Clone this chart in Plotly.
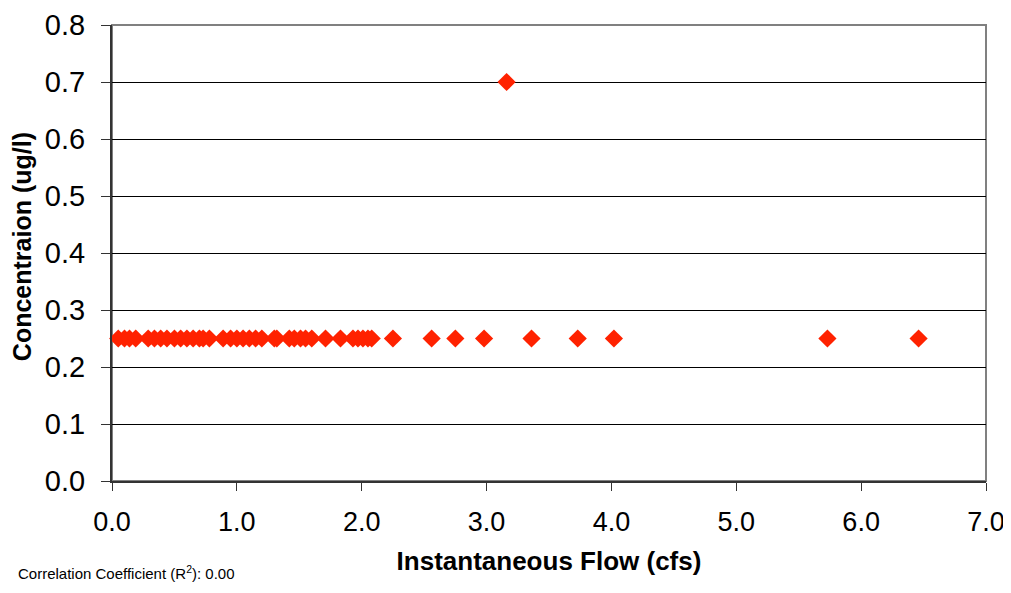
import plotly.graph_objects as go

# instantaneous flow (cfs) and concentration (ug/l)
flow = [0.05, 0.10, 0.14, 0.19,
        0.29, 0.34, 0.39, 0.44, 0.50, 0.55, 0.60, 0.65, 0.70, 0.73, 0.78,
        0.89, 0.95, 1.00, 1.05, 1.10, 1.15, 1.20,
        1.30, 1.32, 1.42, 1.46, 1.51, 1.55, 1.60,
        1.71, 1.83, 1.93, 1.97, 2.01, 2.05, 2.08,
        2.25, 2.56, 2.75, 2.98, 3.16, 3.36, 3.73, 4.02, 5.73, 6.46]
conc = [0.25] * 40 + [0.70] + [0.25] * 5

x_ticks = [0, 1, 2, 3, 4, 5, 6, 7]
y_ticks = [0, 0.1, 0.2, 0.3, 0.4, 0.5, 0.6, 0.7, 0.8]

fig = go.Figure(go.Scatter(
    x=flow, y=conc, mode="markers",
    marker=dict(symbol="diamond", size=14, color="#ff2200"),
    cliponaxis=False,
))

# page body adds an 8px margin, so the figure is sized to fit inside it
fig.update_layout(
    width=1003, height=577,
    margin=dict(l=104, r=25, t=17, b=104, autoexpand=False),
    paper_bgcolor="white", plot_bgcolor="white",
    font=dict(family="Liberation Sans, Arial", color="black"),
    showlegend=False,
    shapes=[dict(type="rect", xref="paper", yref="paper", x0=0, y0=0, x1=1, y1=1,
                 line=dict(color="#808080", width=2), layer="below")],
)
fig.update_xaxes(
    range=[0, 7], tickvals=x_ticks, tickformat=".1f", automargin=False,
    tickfont=dict(size=27), ticks="outside", ticklen=8, tickcolor="#333",
    ticklabelstandoff=8, ticklabeloverflow="allow",
    showline=True, linecolor="#333", linewidth=2, showgrid=False, zeroline=False,
    title=dict(text="<b>Instantaneous Flow (cfs)</b>", font=dict(size=26)),
)
fig.update_yaxes(
    range=[0, 0.8], tickvals=y_ticks, tickformat=".1f", automargin=False,
    tickfont=dict(size=29), ticks="outside", ticklen=9, tickcolor="#333",
    ticklabelstandoff=10, ticklabeloverflow="allow",
    showline=True, linecolor="#333", linewidth=2,
    showgrid=True, gridcolor="black", gridwidth=1, zeroline=False,
)
fig.add_annotation(
    text="<b>Concentraion (ug/l)</b>", textangle=-90, xref="paper", yref="paper",
    x=-0.103, y=0.515, xanchor="center", yanchor="middle", showarrow=False,
    font=dict(size=25),
)
fig.add_annotation(
    text="Correlation Coefficient (R<sup>2</sup>): 0.00", xref="paper", yref="paper",
    x=-0.11, y=-0.226, xanchor="left", yanchor="bottom", showarrow=False,
    font=dict(size=15),
)

fig.write_html("out.html")
